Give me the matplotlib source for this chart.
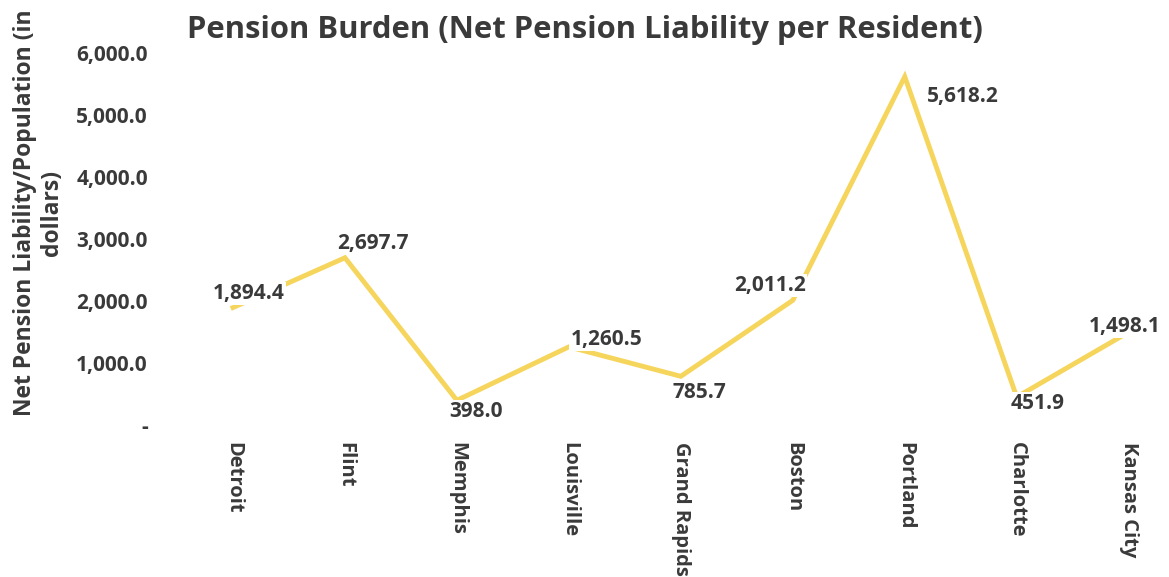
import matplotlib; matplotlib.use('agg'); import matplotlib.pyplot as plt
from matplotlib.ticker import FuncFormatter

plt.rcParams['font.family'] = ['Open Sans', 'DejaVu Sans']
plt.rcParams['font.weight'] = 'bold'

TEXT = "#3a3a3a"
LINE = "#f6d55c"

cities = ["Detroit", "Flint", "Memphis", "Louisville", "Grand Rapids",
          "Boston", "Portland", "Charlotte", "Kansas City"]
burden = [1894.4, 2697.7, 398.0, 1260.5, 785.7, 2011.2, 5618.2, 451.9, 1498.1]
# label offsets in points (dx, dy) relative to each point
label_offsets = [(11.5, 10), (20, 10), (14, -8), (27, 5), (13, -12),
                 (-16.5, 11), (42, -14), (15, -5), (-3, 4)]

fig = plt.figure(figsize=(11.69, 5.77), dpi=100)
ax = fig.add_axes([0.1514, 0.2634, 0.862, 0.6447])

x = list(range(len(cities)))
ax.plot(x, burden, color=LINE, linewidth=3.5, solid_joinstyle='miter', zorder=2)

for xi, v, (dx, dy) in zip(x, burden, label_offsets):
    ax.annotate(f"{v:,.1f}", (xi, v), xytext=(dx, dy), textcoords="offset points",
                ha="center", va="center", fontsize=15, fontweight="bold", color=TEXT,
                bbox=dict(boxstyle="square,pad=0.05", fc="white", ec="none"), zorder=3)

ax.set_xlim(-0.5, 8.5)
ax.set_ylim(0, 6000)
ax.set_yticks([0, 1000, 2000, 3000, 4000, 5000, 6000])
ax.yaxis.set_major_formatter(FuncFormatter(lambda v, p: "-" if v == 0 else f"{v:,.1f}"))
ax.set_xticks(x)
ax.set_xticklabels(cities, rotation=-90, va="top", ha="center")
ax.tick_params(axis="y", length=0, labelsize=15, colors=TEXT, pad=21)
ax.tick_params(axis="x", length=0, labelsize=14.5, colors=TEXT, pad=12)
for s in ax.spines.values():
    s.set_visible(False)

ax.set_ylabel("Net Pension Liability/Population (in\ndollars)", fontsize=16.5,
              fontweight="bold", color=TEXT, linespacing=1.15)
ax.yaxis.set_label_coords(-0.112, 0.57)

fig.text(0.5, 0.948, "Pension Burden (Net Pension Liability per Resident)",
         ha="center", va="center", fontsize=22.3, fontweight="bold", color=TEXT)

fig.savefig("out.png", dpi=100, facecolor="white")
plt.close()
